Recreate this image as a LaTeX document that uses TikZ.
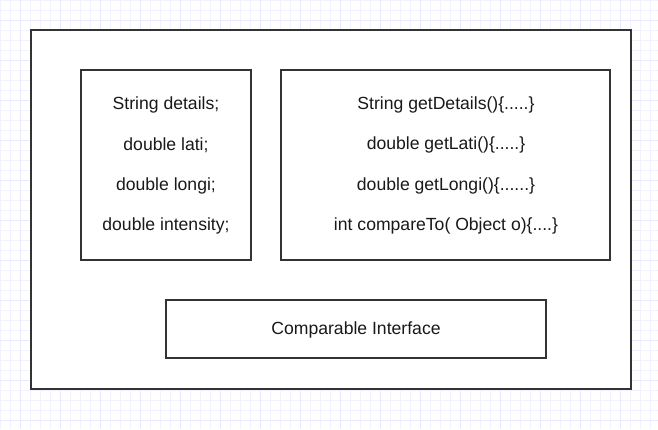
\documentclass[tikz,border=0pt]{standalone}
\usepackage{fontspec}
\setmainfont{Liberation Sans}
\begin{document}
\begin{tikzpicture}[x=1pt,y=-1pt,
  box/.style={draw=black!80, line width=1.6pt},
  txt/.style={font=\fontsize{17.6}{20}\selectfont, text=black!90, inner sep=0pt, anchor=center}]
\useasboundingbox (0,0) rectangle (658,429);
\fill[white] (0,0) rectangle (658,429);
\foreach \i in {0,10,...,650} \draw[color=blue!5, line width=0.8pt] (\i+0.5,0) -- (\i+0.5,429);
\foreach \i in {0,10,...,420} \draw[color=blue!5, line width=0.8pt] (0,\i+0.5) -- (658,\i+0.5);
\foreach \i in {20,60,...,650} \draw[color=blue!9, line width=0.8pt] (\i+0.5,0) -- (\i+0.5,429);
\foreach \i in {20,60,...,420} \draw[color=blue!9, line width=0.8pt] (0,\i+0.5) -- (658,\i+0.5);
\node[box, fill=white, minimum width=600pt, minimum height=359pt, inner sep=0pt] (outer) at (331,209.5) {};
\node[box, minimum width=170pt, minimum height=190pt, inner sep=0pt] (fields) at (166,165) {};
\node[box, minimum width=329pt, minimum height=190pt, inner sep=0pt] (methods) at (445.5,165) {};
\node[box, minimum width=380pt, minimum height=58pt, inner sep=0pt] (iface) at (356,329) {};
\node[txt] (f1) at (166,105) {String details;};
\node[txt] (f2) at (166,145) {double lati;};
\node[txt] (f3) at (166,186) {double longi;};
\node[txt] (f4) at (166,226) {double intensity;};
\node[txt] (m1) at (446,105) {String getDetails()\{.....\}};
\node[txt] (m2) at (446,145) {double getLati()\{.....\}};
\node[txt] (m3) at (446,186) {double getLongi()\{......\}};
\node[txt] (m4) at (446,226) {int compareTo( Object o)\{....\}};
\node[txt] (it) at (356,330) {Comparable Interface};
\end{tikzpicture}
\end{document}
